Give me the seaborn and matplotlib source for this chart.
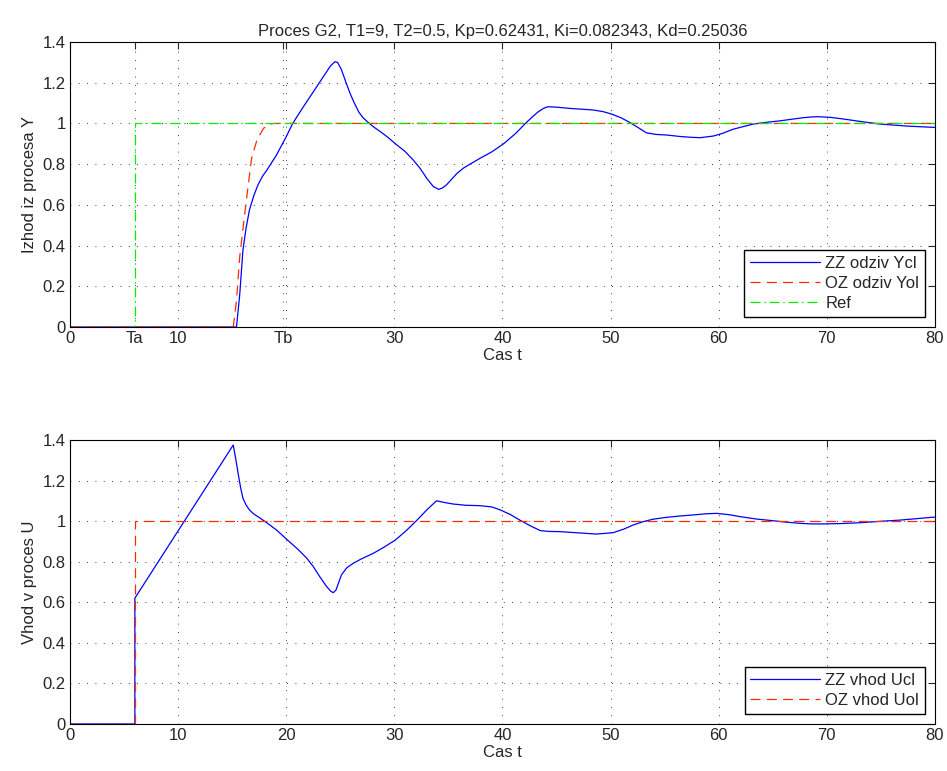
import numpy as np
import pandas as pd
import matplotlib
matplotlib.use("Agg")
import matplotlib.pyplot as plt
from matplotlib.ticker import FormatStrFormatter
import seaborn as sns

# Closed-loop output response
t_ycl = [0, 15.4, 15.7, 16.0, 16.3, 16.6, 17.0, 17.4, 17.8, 18.2, 19.1, 20.0, 20.6,
         21.5, 22.5, 23.5, 24.1, 24.5, 24.75, 25.1, 25.5, 25.9, 26.3, 26.7, 27.1,
         27.6, 28.1, 28.7, 29.4, 30.1, 31.0, 31.75, 32.4, 33.0, 33.6, 34.1, 34.45,
         34.8, 35.3, 35.8, 36.4, 37.0, 37.9, 39.0, 40.1, 41.2, 42.2, 42.8, 43.3,
         43.8, 44.2, 45.0, 46.2, 47.3, 48.4, 49.3, 50.1, 51.0, 51.8, 52.6, 53.3,
         54.2, 55.2, 56.4, 57.4, 58.3, 59.5, 60.4, 61.3, 62.3, 63.2, 64.5, 65.7,
         66.8, 67.8, 68.6, 69.2, 70.3, 71.5, 72.8, 74.9, 77.4, 79.8, 80.0]
y_ycl = [0, 0, 0.16, 0.38, 0.49, 0.575, 0.645, 0.70, 0.74, 0.77, 0.845, 0.935, 1.0,
         1.075, 1.155, 1.235, 1.283, 1.303, 1.30, 1.265, 1.205, 1.148, 1.10, 1.057,
         1.028, 1.004, 0.982, 0.96, 0.932, 0.90, 0.862, 0.82, 0.778, 0.73, 0.69,
         0.676, 0.683, 0.697, 0.726, 0.755, 0.781, 0.80, 0.828, 0.86, 0.90, 0.95,
         1.004, 1.034, 1.057, 1.074, 1.082, 1.080, 1.074, 1.07, 1.066, 1.058, 1.046,
         1.027, 1.004, 0.978, 0.954, 0.946, 0.943, 0.936, 0.932, 0.93, 0.938, 0.952,
         0.971, 0.985, 0.997, 1.006, 1.013, 1.021, 1.028, 1.032, 1.033, 1.03, 1.022,
         1.012, 0.997, 0.987, 0.981, 0.981]

# Open-loop output response
t_yol = [0, 15.1, 15.4, 15.7, 16.2, 16.8, 17.3, 17.9, 18.4, 18.8, 80.0]
y_yol = [0, 0, 0.13, 0.345, 0.575, 0.83, 0.92, 0.976, 0.994, 1.0, 1.0]

# Reference step
t_ref = [0, 6, 6, 80]
y_ref = [0, 0, 1, 1]

# Closed-loop process input
t_ucl = [0, 6, 6, 15.1, 15.35, 15.6, 15.8, 16.0, 16.3, 16.6, 17.0, 17.6, 18.3,
         19.1, 20.3, 21.1, 21.9, 22.5, 23.1, 23.7, 24.1, 24.35, 24.6, 25.1, 25.6,
         26.2, 27.0, 28.05, 29.0, 30.1, 31.1, 32.1, 33.0, 33.9, 34.6, 35.45, 36.6,
         37.9, 39.0, 39.8, 40.7, 41.6, 42.6, 43.5, 44.3, 45.3, 47.0, 48.7, 50.25,
         51.2, 52.1, 53.0, 53.9, 55.1, 56.4, 57.6, 58.8, 59.8, 60.9, 61.97, 63.5,
         65.0, 66.2, 67.5, 68.6, 69.7, 71.4, 73.1, 75.0, 76.8, 78.3, 79.8, 80.0]
u_ucl = [0, 0, 0.62, 1.375, 1.30, 1.219, 1.16, 1.112, 1.078, 1.055, 1.035, 1.014,
         0.988, 0.956, 0.898, 0.86, 0.817, 0.776, 0.726, 0.68, 0.655, 0.647, 0.66,
         0.734, 0.77, 0.792, 0.815, 0.841, 0.87, 0.907, 0.953, 1.005, 1.055, 1.10,
         1.092, 1.084, 1.078, 1.076, 1.07, 1.055, 1.033, 1.005, 0.976, 0.953, 0.949,
         0.948, 0.942, 0.936, 0.943, 0.96, 0.981, 0.997, 1.009, 1.018, 1.025, 1.03,
         1.036, 1.038, 1.032, 1.022, 1.01, 1.002, 0.995, 0.989, 0.986, 0.986, 0.988,
         0.992, 0.999, 1.005, 1.012, 1.019, 1.019]

# Open-loop process input
t_uol = [0, 6, 6, 80]
u_uol = [0, 0, 1, 1]

title = "Proces G2, T1=9, T2=0.5, Kp=0.62431, Ki=0.082343, Kd=0.25036"
top_xticks = [0, 6, 10, 19.7, 20, 30, 40, 50, 60, 70, 80]
top_xlabels = ["0", "Ta", "10", "Tb", "", "30", "40", "50", "60", "70", "80"]
yticks = [0, 0.2, 0.4, 0.6, 0.8, 1.0, 1.2, 1.4]

sns.set_style("white")
plt.rcParams["font.family"] = ["Liberation Sans", "DejaVu Sans"]
plt.rcParams["font.size"] = 12

fig = plt.figure(figsize=(9.47, 7.71), dpi=100)
ax1 = fig.add_axes([0.0739, 0.5759, 0.9134, 0.3696])
ax2 = fig.add_axes([0.0739, 0.0610, 0.9134, 0.3684])

BLUE = "#0000ff"
RED = "#ff2a00"
GREEN = "#00ee00"
LW = 0.9


def draw(ax, t, y, **kw):
    df = pd.DataFrame({"t": t, "y": y})
    sns.lineplot(data=df, x="t", y="y", ax=ax, estimator=None, sort=False, **kw)


draw(ax1, t_ycl, y_ycl, color=BLUE, lw=LW, label="ZZ odziv Ycl")
draw(ax1, t_yol, y_yol, color=RED, lw=LW, dashes=(8, 5), label="OZ odziv Yol")
draw(ax1, t_ref, y_ref, color=GREEN, lw=LW, dashes=(8, 3, 1.2, 3), label="Ref")

draw(ax2, t_ucl, u_ucl, color=BLUE, lw=LW, label="ZZ vhod Ucl")
draw(ax2, t_uol, u_uol, color=RED, lw=LW, dashes=(8, 5), label="OZ vhod Uol")

for ax in (ax1, ax2):
    ax.set_xlim(0, 80)
    ax.set_ylim(0, 1.4)
    ax.set_yticks(yticks)
    ax.yaxis.set_major_formatter(FormatStrFormatter("%g"))
    ax.grid(True, color="black", linestyle=(0, (1, 9)), linewidth=0.6)
    ax.tick_params(direction="in", top=True, right=True, length=5, width=0.8,
                   labelsize=12, pad=3)
    for s in ax.spines.values():
        s.set_color("black")
        s.set_linewidth(0.8)
    ax.set_xlabel("Cas t", fontsize=12, labelpad=1)
    leg = ax.legend(loc="lower right", fontsize=12, handlelength=4.2,
                    fancybox=False, framealpha=1, borderaxespad=0.6,
                    labelspacing=0.3, handletextpad=0.3, borderpad=0.35)
    leg.get_frame().set_edgecolor("black")
    leg.get_frame().set_linewidth(1.0)

ax1.set_xticks(top_xticks)
ax1.set_xticklabels(top_xlabels)
ax1.set_ylabel("Izhod iz procesa Y", fontsize=12)
ax1.set_title(title, fontsize=12, pad=4)

ax2.set_xticks([0, 10, 20, 30, 40, 50, 60, 70, 80])
ax2.set_ylabel("Vhod v proces U", fontsize=12)

fig.savefig("out.png", dpi=100)
